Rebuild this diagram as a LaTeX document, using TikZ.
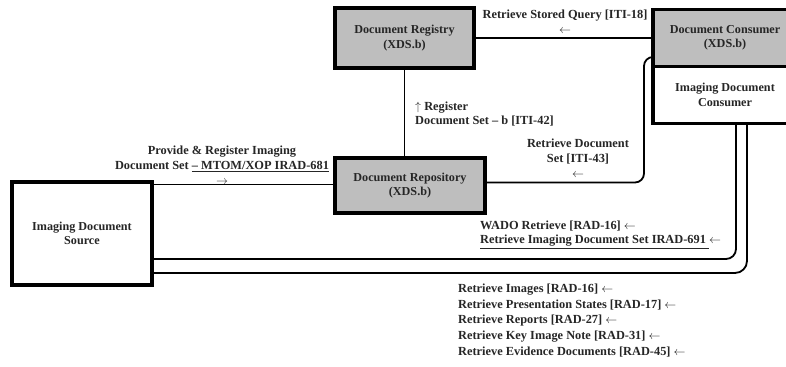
\documentclass[tikz,border=0pt]{standalone}
\usepackage{fontspec}
\setmainfont{Liberation Serif}
\usetikzlibrary{calc}
\definecolor{boxgray}{HTML}{BEBEBE}
\definecolor{txt}{HTML}{262626}
\newcommand{\la}{\ensuremath{\leftarrow}}
\newcommand{\ra}{\ensuremath{\rightarrow}}
\newcommand{\ua}{\ensuremath{\uparrow}}
\tikzset{
  box/.style={draw=black, line width=3.2bp, fill=white, align=center, inner sep=2bp,
    font=\fontsize{12.2}{14.5}\selectfont\bfseries, text=txt},
  graybox/.style={box, fill=boxgray},
  link/.style={draw=black, line width=1.8bp},
  lbl/.style={font=\fontsize{12.4}{14.8}\selectfont\bfseries, text=txt, inner sep=0pt},
}
\begin{document}
\begin{tikzpicture}[x=1bp,y=-1bp]
\useasboundingbox[fill=white] (0,0) rectangle (786,366);
\clip (0,0) rectangle (786,366);

% boxes
\node[graybox, minimum width=139bp, minimum height=60bp] (reg) at (404.5,38) {Document Registry\\(XDS.b)};
\node[box, minimum width=144bp, minimum height=57bp] (cons2) at (725,95) {Imaging Document\\Consumer};
\node[graybox, minimum width=144bp, minimum height=57bp] (cons) at (725,38) {Document Consumer\\(XDS.b)};
\node[graybox, minimum width=150bp, minimum height=55bp] (repo) at (410,185.5) {Document Repository\\(XDS.b)};
\node[box, minimum width=140bp, minimum height=103bp] (src) at (82,233.5) {Imaging Document\\Source};

% connectors
\draw[link] (reg.east) -- (reg.east -| cons.west);
\draw[link] (reg.south) -- (reg.south |- repo.north);
\coordinate (p1) at ([yshift=-4bp]src.north east);
\draw[link] (p1) -- (p1 -| repo.west);
\coordinate (r1) at ([yshift=3bp]repo.east);
\coordinate (c1) at ([yshift=-19bp]cons.west);
\draw[link, rounded corners=9bp] (r1) -- (r1 -| 644,0) -- (644,0 |- c1) -- (c1);
\coordinate (s1) at (src.east |- 0,259);
\coordinate (s2) at (src.east |- 0,273);
\coordinate (e1) at (736,0 |- cons2.south);
\coordinate (e2) at (747,0 |- cons2.south);
\draw[link, rounded corners=10bp] (s1) -| (e1);
\draw[link, rounded corners=12bp] (s2) -| (e2);

% labels
\node[lbl, align=center] (l1) at (565,22) {Retrieve Stored Query [ITI-18]\\\la};
\node[lbl, align=left, anchor=west] (l2) at (415,114) {\ua{} Register\\Document Set – b [ITI-42]};
\node[lbl, align=center] (l3) at (578,158) {Retrieve Document\\Set [ITI-43]\\\la};
\node[lbl, align=center] (l4) at (222,165) {Provide \& Register Imaging\\Document Set \underline{– MTOM/XOP IRAD-681}\\\ra};
\node[lbl, align=left, anchor=west] (l5) at (480,234.5) {WADO Retrieve [RAD-16] \la\\\underline{Retrieve Imaging Document Set IRAD-691 }\la};
\node[lbl, align=left, anchor=west, font=\fontsize{12.4}{15.7}\selectfont\bfseries] (l6) at (458,320.5) {Retrieve Images [RAD-16] \la\\Retrieve Presentation States [RAD-17] \la\\Retrieve Reports [RAD-27] \la\\Retrieve Key Image Note [RAD-31] \la\\Retrieve Evidence Documents [RAD-45] \la};
\end{tikzpicture}
\end{document}
